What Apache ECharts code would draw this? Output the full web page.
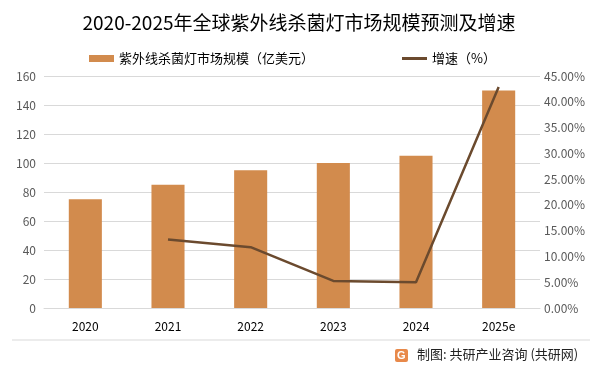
<!DOCTYPE html>
<html><head><meta charset="utf-8">
<script src="https://cdn.jsdelivr.net/npm/echarts@6/dist/echarts.min.js"></script>
<style>html,body{margin:0;padding:0;background:#fff;}#c{width:598px;height:373px;}</style>
</head><body><div id="c"></div>
<script>
const categories = ['2020','2021','2022','2023','2024','2025e'];
const marketSize = [75, 85, 95, 100, 105, 150];
const growth = [null, 13.3, 11.8, 5.26, 5.0, 42.86];
const leftTicks = [0,20,40,60,80,100,120,140,160];

const chart = echarts.init(document.getElementById('c'));
const font = '"Microsoft YaHei","Noto Sans CJK SC",sans-serif';
chart.setOption({
  animation: false,
  title: {
    text: '2020-2025年全球紫外线杀菌灯市场规模预测及增速',
    left: 'center', top: 8,
    textStyle: {fontFamily: font, fontSize: 19, fontWeight: 'normal', color: '#000'}
  },
  legend: {
    top: 47, left: 84, itemGap: 88,
    itemWidth: 25, itemHeight: 7,
    textStyle: {fontFamily: font, fontSize: 13, color: '#000'},
    data: [{name: '紫外线杀菌灯市场规模（亿美元）', icon: 'rect'},
           {name: '增速（%）', icon: 'path://M0,0L25,0L25,3L0,3Z'}]
  },
  grid: {left: 44, right: 58, top: 76, bottom: 65},
  xAxis: {
    type: 'category', data: categories,
    axisLine: {lineStyle: {color: '#d9d9d9'}},
    axisTick: {show: false},
    axisLabel: {fontFamily: font, fontSize: 12, color: '#000', margin: 12}
  },
  yAxis: [{
    type: 'value', min: 0, max: 160, interval: 20,
    axisLine: {show: false}, axisTick: {show: false},
    splitLine: {lineStyle: {color: '#d9d9d9'}},
    axisLabel: {fontFamily: font, fontSize: 12, color: '#595959', margin: 8}
  }, {
    type: 'value', min: 0, max: 45, interval: 5,
    axisLine: {show: false}, axisTick: {show: false},
    splitLine: {show: false},
    axisLabel: {fontFamily: font, fontSize: 12, color: '#595959', margin: 4,
      formatter: v => v.toFixed(2) + '%'}
  }],
  series: [{
    name: '紫外线杀菌灯市场规模（亿美元）', type: 'bar', data: marketSize,
    barWidth: '40%', itemStyle: {color: '#D28B4D'}
  }, {
    name: '增速（%）', type: 'line', yAxisIndex: 1, data: growth,
    symbol: 'none', connectNulls: false,
    lineStyle: {color: '#6B4A2E', width: 2.5},
    itemStyle: {color: '#6B4A2E'}
  }],
  graphic: [
    {type: 'line', shape: {x1: 12, y1: 340, x2: 590, y2: 340}, style: {stroke: '#d9d9d9', lineWidth: 1}},
    {type: 'rect', shape: {x: 395, y: 349, width: 13, height: 13, r: 2}, style: {fill: '#E8894A'}},
    {type: 'text', left: 397, top: 350, style: {text: 'G', fill: '#fff', font: 'bold 11px sans-serif'}},
    {type: 'text', left: 417, top: 348, style: {text: '制图: 共研产业咨询 (共研网)', fill: '#222', font: '13px ' + font}}
  ]
});
</script></body></html>
